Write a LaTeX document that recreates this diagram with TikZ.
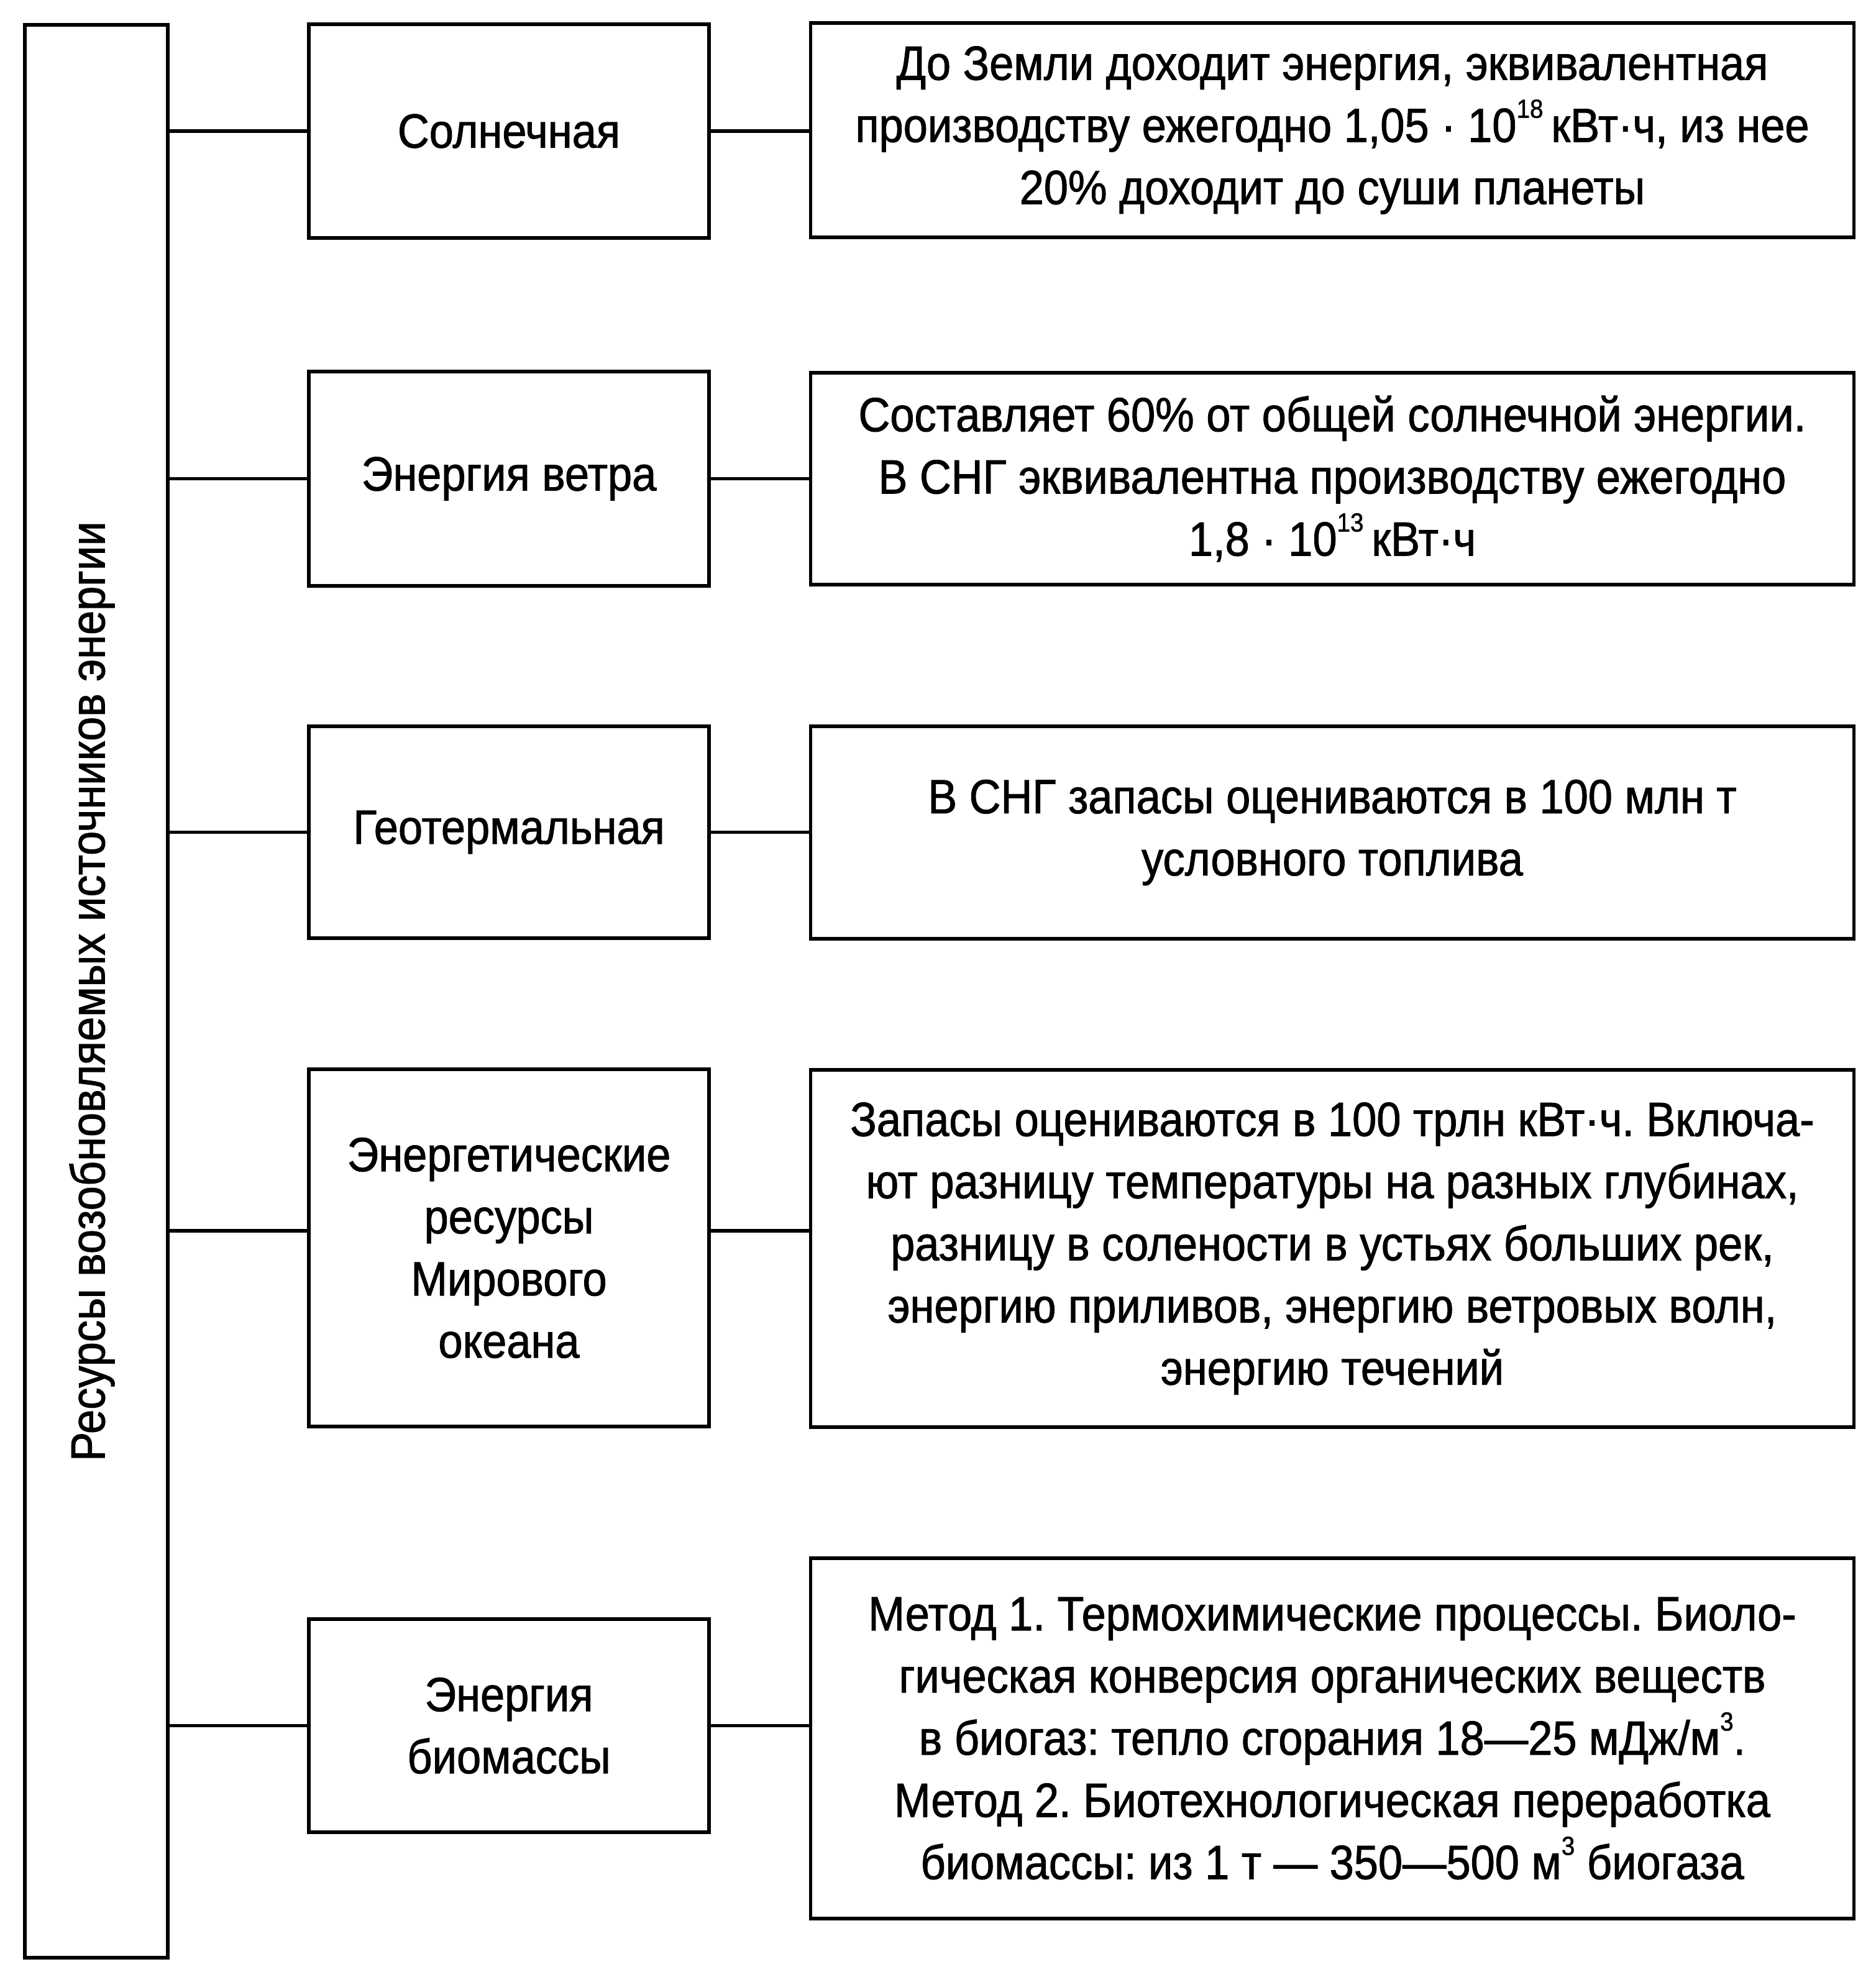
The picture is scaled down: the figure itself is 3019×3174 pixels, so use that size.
\documentclass[tikz,border=0pt]{standalone}
\usepackage{fontspec}
\setmainfont{Liberation Sans}[FakeStretch=0.91,FakeBold=1.2]
\newcommand\supx[1]{\raisebox{0.95ex}{\fontsize{12}{12}\selectfont #1}}
\frenchspacing
\begin{document}
\begin{tikzpicture}[x=0.01cm,y=-0.01cm,
  txt/.style={font=\fontsize{22}{28.45}\selectfont\frenchspacing, align=center},
  box/.style={draw, line width=1.6pt, inner sep=0pt, txt},
  midbox/.style={box, minimum width=6.44cm},
  rightbox/.style={box, minimum width=16.78cm},
  conn/.style={line width=1.5pt}]
\useasboundingbox (0,0) rectangle (3019,3174);

% left tall box
\node[box, minimum width=2.30cm, minimum height=31.09cm] (L) at (155,1595.5) {};
\node[txt, rotate=90, inner sep=0pt] (Lt) at (148,1595.5) {Ресурсы возобновляемых источников энергии};

% middle boxes
\node[midbox, minimum height=3.44cm] (M1) at (819,211) {Солнечная};
\node[midbox, minimum height=3.45cm] (M2) at (819,770.5) {Энергия ветра};
\node[midbox, minimum height=3.41cm] (M3) at (819,1339.5) {Геотермальная};
\node[midbox, minimum height=5.75cm] (M4) at (819,2008.5) {Энергетические\\ресурсы\\Мирового\\океана};
\node[midbox, minimum height=3.43cm] (M5) at (819,2777.5) {Энергия\\биомассы};

% right boxes
\node[rightbox, minimum height=3.45cm] (R1) at (2144,209.5)
  {До Земли доходит энергия, эквивалентная\\производству ежегодно 1,05 · 10\supx{18}\,кВт·ч, из нее\\20\% доходит до суши планеты};
\node[rightbox, minimum height=3.41cm] (R2) at (2144,770.5)
  {Составляет 60\% от общей солнечной энергии.\\В СНГ эквивалентна производству ежегодно\\1,8 · 10\supx{13}\,кВт·ч};
\node[rightbox, minimum height=3.42cm] (R3) at (2144,1340)
  {В СНГ запасы оцениваются в 100 млн т\\условного топлива};
\node[rightbox, minimum height=5.75cm] (R4) at (2144,2009.5)
  {Запасы оцениваются в 100 трлн кВт·ч. Включа-\\ют разницу температуры на разных глубинах,\\разницу в солености в устьях больших рек,\\энергию приливов, энергию ветровых волн,\\энергию течений};
\node[rightbox, minimum height=5.80cm] (R5) at (2144,2798)
  {Метод 1. Термохимические процессы. Биоло-\\гическая конверсия органических веществ\\в биогаз: тепло сгорания 18—25 мДж/м\supx{3}.\\Метод 2. Биотехнологическая переработка\\биомассы: из 1 т — 350—500 м\supx{3} биогаза};

% connectors
\coordinate (c4) at (0,1981);
\draw[conn] (L.east |- M1.west) -- (M1.west);
\draw[conn] (M1.east) -- (R1.west |- M1.east);
\draw[conn] (L.east |- M2.west) -- (M2.west);
\draw[conn] (M2.east) -- (R2.west |- M2.east);
\draw[conn] (L.east |- M3.west) -- (M3.west);
\draw[conn] (M3.east) -- (R3.west |- M3.east);
\draw[conn] (L.east |- c4) -- (M4.west |- c4);
\draw[conn] (M4.east |- c4) -- (R4.west |- c4);
\draw[conn] (L.east |- M5.west) -- (M5.west);
\draw[conn] (M5.east) -- (R5.west |- M5.east);
\end{tikzpicture}
\end{document}
